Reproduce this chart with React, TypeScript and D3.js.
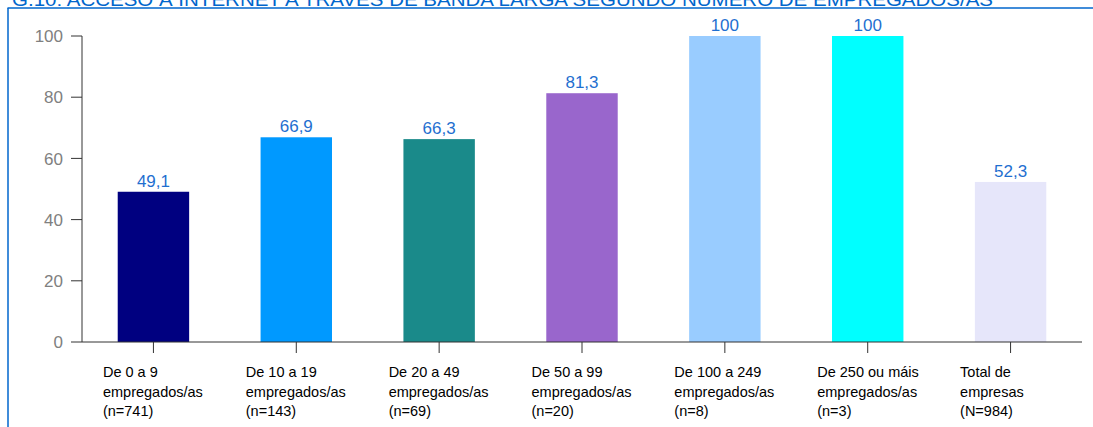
import React from "react";
import * as d3 from "d3";

const categories: string[][] = [
  ["De 0 a 9", "empregados/as", "(n=741)"],
  ["De 10 a 19", "empregados/as", "(n=143)"],
  ["De 20 a 49", "empregados/as", "(n=69)"],
  ["De 50 a 99", "empregados/as", "(n=20)"],
  ["De 100 a 249", "empregados/as", "(n=8)"],
  ["De 250 ou máis", "empregados/as", "(n=3)"],
  ["Total de", "empresas", "(N=984)"],
];
const values: number[] = [49.1, 66.9, 66.3, 81.3, 100, 100, 52.3];
const barColors: string[] = ["#000080", "#0099FF", "#1A8A8A", "#9966CC", "#99CCFF", "#00FFFF", "#E6E6FA"];
const yTicks: number[] = [0, 20, 40, 60, 80, 100];
const title = "G.10: ACCESO Á INTERNET A TRAVÉS DE BANDA LARGA SEGUNDO NÚMERO DE EMPREGADOS/AS";

const W = 1093;
const H = 427;
const FONT = "'Liberation Sans', Arial, sans-serif";

export default function App() {
  const x = d3
    .scaleBand<number>()
    .domain(d3.range(values.length))
    .range([82, 1082])
    .paddingInner(0.5)
    .paddingOuter(0.25);
  const y = d3.scaleLinear().domain([0, 100]).range([342, 36]);
  const fmt = (v: number) => (Number.isInteger(v) ? String(v) : v.toFixed(1).replace(".", ","));

  return (
    <svg
      width={W}
      height={H}
      style={{ position: "absolute", left: 0, top: 0, fontFamily: FONT }}
    >
      <rect x={0} y={0} width={W} height={H} fill="#fff" />
      {/* frame */}
      <line x1={7.5} x2={W} y1={8} y2={8} stroke="#0066CC" strokeWidth={1.5} />
      <line x1={8} x2={8} y1={8} y2={H} stroke="#0066CC" strokeWidth={1.5} />
      <text x={12} y={6} fontSize={18} fill="#0066CC" textLength={981} lengthAdjust="spacingAndGlyphs">
        {title}
      </text>

      {/* bars */}
      {values.map((v, i) => (
        <rect
          key={i}
          x={x(i)!}
          y={y(v)}
          width={x.bandwidth()}
          height={y(0) - y(v)}
          fill={barColors[i]}
        />
      ))}

      {/* value labels */}
      {values.map((v, i) => (
        <text
          key={"v" + i}
          x={x(i)! + x.bandwidth() / 2}
          y={y(v) - 5}
          textAnchor="middle"
          fontSize={17}
          fill="#1F6FD0"
        >
          {fmt(v)}
        </text>
      ))}

      {/* y axis */}
      <line x1={82} x2={82} y1={y(100)} y2={y(0)} stroke="#333" strokeWidth={1} />
      {yTicks.map((t) => (
        <g key={"y" + t}>
          <line x1={71} x2={82} y1={y(t)} y2={y(t)} stroke="#333" strokeWidth={1} />
          <text x={63} y={y(t)} dy="0.36em" textAnchor="end" fontSize={17} fill="#808080">
            {t}
          </text>
        </g>
      ))}

      {/* x axis */}
      <line x1={82} x2={1082} y1={y(0)} y2={y(0)} stroke="#333" strokeWidth={1} />
      {categories.map((c, i) => {
        const cx = x(i)! + x.bandwidth() / 2;
        return (
          <g key={"x" + i}>
            <line x1={cx} x2={cx} y1={y(0)} y2={y(0) + 11} stroke="#333" strokeWidth={1} />
            {c.map((line, j) => (
              <text key={j} x={cx - 50.5} y={377 + j * 19.5} fontSize={14.5} fill="#000">
                {line}
              </text>
            ))}
          </g>
        );
      })}
    </svg>
  );
}
